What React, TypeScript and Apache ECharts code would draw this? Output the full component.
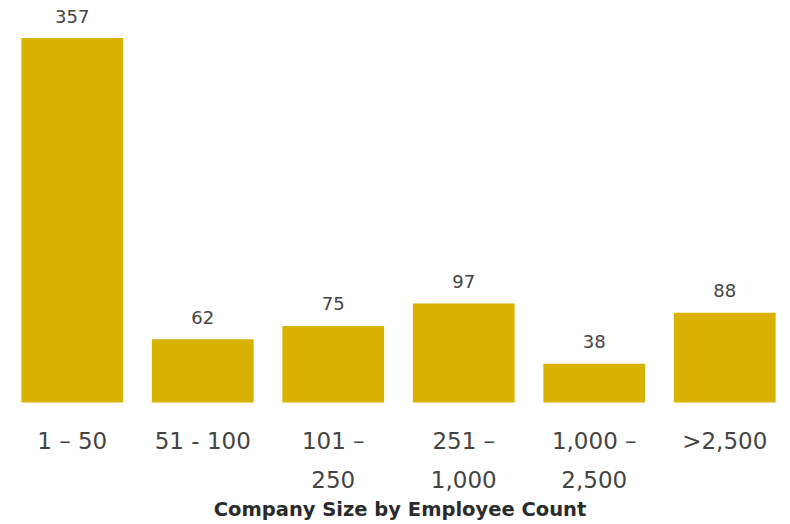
import React, { useEffect, useRef } from "react";
import * as echarts from "echarts";

const categories = ["1 – 50", "51 - 100", "101 –\n250", "251 –\n1,000", "1,000 –\n2,500", ">2,500"];
const counts = [357, 62, 75, 97, 38, 88];
const axisTitle = "Company Size by Employee Count";

export default function App() {
  const ref = useRef<HTMLDivElement>(null);
  useEffect(() => {
    const chart = echarts.init(ref.current!, null, { renderer: "svg" });
    chart.setOption({
      animation: false,
      grid: { left: 7, right: 0, top: 38, bottom: 121.5, outerBoundsMode: "none", containLabel: false },
      graphic: [
        {
          type: "text",
          x: 400,
          y: 509,
          style: {
            text: axisTitle,
            align: "center",
            verticalAlign: "middle",
            fontFamily: "DejaVu Sans",
            fontWeight: "bold",
            fontSize: 19.5,
            fill: "#2b2b2b",
          },
        },
      ],
      xAxis: {
        type: "category",
        data: categories,
        axisLine: { show: false },
        axisTick: { show: false },
        axisLabel: {
          interval: 0,
          margin: 19,
          fontFamily: "DejaVu Sans",
          fontSize: 23,
          lineHeight: 39,
          color: "#444444",
        },
      },
      yAxis: { type: "value", min: 0, max: 357, show: false },
      series: [
        {
          type: "bar",
          data: counts,
          barCategoryGap: "22%",
          itemStyle: { color: "#D9B100" },
          label: {
            show: true,
            position: "top",
            distance: 13,
            fontFamily: "DejaVu Sans",
            fontSize: 18,
            color: "#444444",
          },
        },
      ],
    });
    return () => chart.dispose();
  }, []);
  return <div ref={ref} style={{ position: "absolute", left: 0, top: 0, width: 790, height: 524 }} />;
}
